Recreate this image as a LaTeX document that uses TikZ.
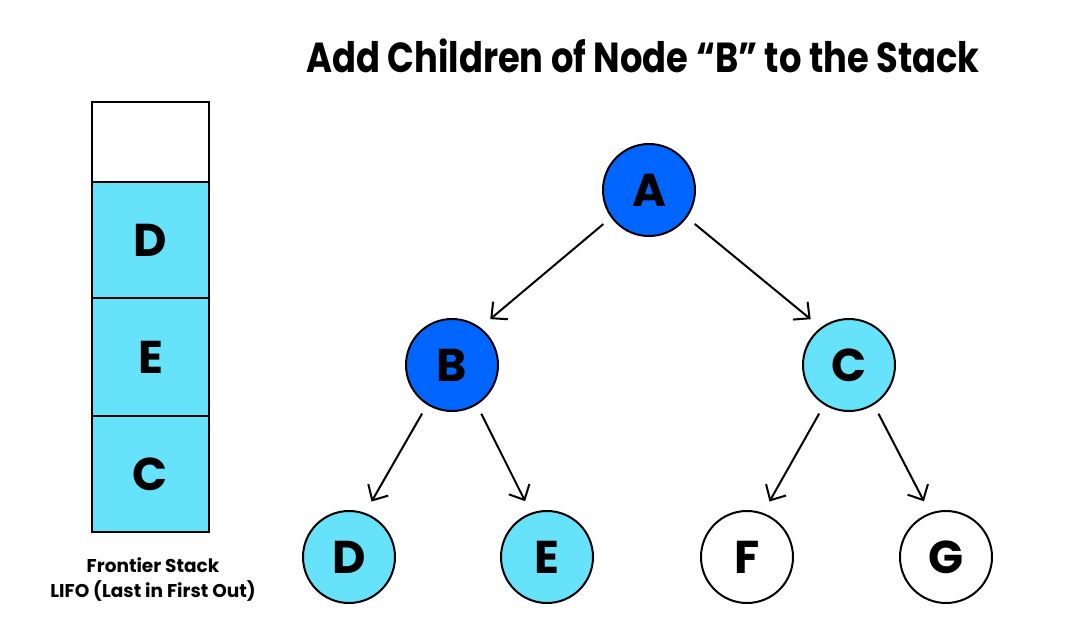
\documentclass[tikz,border=0pt]{standalone}
\usepackage{fontspec}
\setmainfont{Poppins}
\newfontfamily\titlefont[FakeStretch=0.84]{Poppins}
\usetikzlibrary{arrows.meta}
\definecolor{dblue}{HTML}{0066FF}
\definecolor{lcyan}{HTML}{66E3FA}
\tikzset{
  tnode/.style={circle, draw=black, line width=2pt, minimum size=92pt, inner sep=0pt, font=\fontsize{46}{46}\selectfont\bfseries},
  visited/.style={tnode, fill=dblue},
  frontier/.style={tnode, fill=lcyan},
  unseen/.style={tnode, fill=white},
  cell/.style={rectangle, draw=black, line width=2pt, minimum width=117pt, inner sep=0pt, font=\fontsize{46}{46}\selectfont\bfseries},
  arr/.style={-{Straight Barb[length=12pt,width=23pt,line width=2pt]}, line width=2pt, shorten <=10pt, shorten >=13pt},
  lab/.style={font=\fontsize{18.5}{18.5}\selectfont\bfseries, align=center},
}
\begin{document}
\begin{tikzpicture}[x=1pt,y=-1pt]
\useasboundingbox (0,0) rectangle (1071,642);
% title
\node[font=\titlefont\fontsize{42}{42}\selectfont\bfseries] (title) at (643,56) {Add Children of Node “B” to the Stack};
% stack
\node[cell, minimum height=80pt, fill=white] (s0) at (150.5,142) {};
\node[cell, minimum height=116pt, fill=lcyan] (sD) at (150.5,240) {D};
\node[cell, minimum height=118pt, fill=lcyan] (sE) at (150.5,357) {E};
\node[cell, minimum height=116pt, fill=lcyan] (sC) at (150.5,474) {C};
\node[lab] (lab1) at (153,565) {Frontier Stack};
\node[lab] (lab2) at (153,591) {LIFO (Last in First Out)};
% tree
\node[visited] (A) at (649,190) {A};
\node[visited] (B) at (452,365) {B};
\node[frontier] (C) at (849,365) {C};
\node[frontier] (D) at (349,557) {D};
\node[frontier] (E) at (547,557) {E};
\node[unseen] (F) at (747,557) {F};
\node[unseen] (G) at (946,557) {G};
\draw[arr] (A.216) -- (B.53);
\draw[arr] (A.-36) -- (C.127);
\draw[arr] (B.238) -- (D.70);
\draw[arr] (B.-58) -- (E.110);
\draw[arr] (C.238) -- (F.70);
\draw[arr] (C.-58) -- (G.110);
\end{tikzpicture}
\end{document}
